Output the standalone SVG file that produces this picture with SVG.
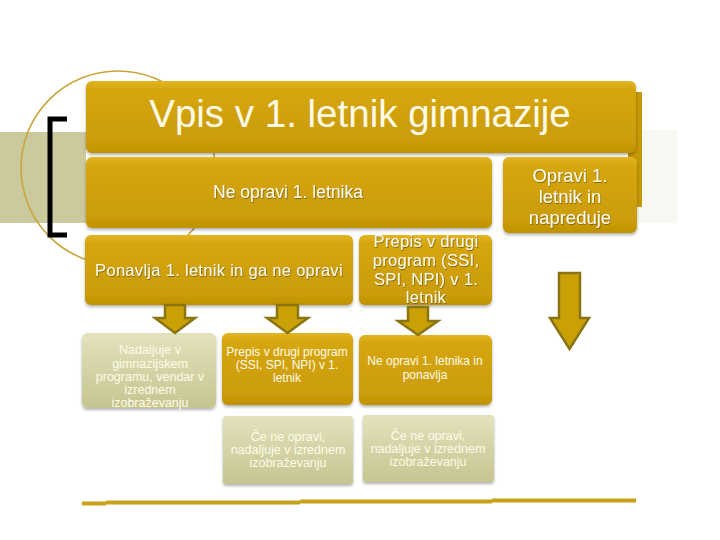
<svg xmlns="http://www.w3.org/2000/svg" width="720" height="540" viewBox="0 0 720 540">
<style>
.gold{fill:url(#gGold);}
.khaki{fill:url(#gKhaki);}
.box{filter:url(#sh);}
text{font-family:"Liberation Sans",Arial,sans-serif;fill:#fffbe8;text-anchor:middle;}
.ts{filter:url(#tsh);}
.arr{fill:#c9a005;stroke:#8a7410;stroke-width:2.5;stroke-linejoin:miter;}
.deco{fill:none;stroke:#c9a53a;stroke-width:1.6;}
.bl{stroke:#c9a019;stroke-width:4;fill:none;}
</style>
<defs>
<linearGradient id="gGold" x1="0" y1="0" x2="0" y2="1">
<stop offset="0" stop-color="#e2b523"/>
<stop offset="0.12" stop-color="#d5a60e"/>
<stop offset="0.85" stop-color="#cb9c07"/>
<stop offset="1" stop-color="#bf9205"/>
</linearGradient>
<linearGradient id="gKhaki" x1="0" y1="0" x2="0" y2="1">
<stop offset="0" stop-color="#e3e2bd"/>
<stop offset="0.5" stop-color="#d4d3a6"/>
<stop offset="1" stop-color="#c6c590"/>
</linearGradient>
<filter id="sh" x="-10%" y="-10%" width="120%" height="130%">
<feDropShadow dx="0" dy="2" stdDeviation="1.6" flood-color="#000" flood-opacity="0.3"/>
</filter>
<filter id="tsh" x="-10%" y="-20%" width="120%" height="140%">
<feDropShadow dx="0.6" dy="0.8" stdDeviation="0.6" flood-color="#5a4500" flood-opacity="0.8"/>
</filter>
</defs>
<rect width="720" height="540" fill="#ffffff"/>
<!-- decorative background -->
<rect x="0" y="132" width="86" height="91" fill="#cbca9c"/>
<rect x="637" y="130" width="40" height="93" fill="#f8f8f2"/>
<circle class="deco" cx="118" cy="168" r="97"/>
<path d="M67,119 H50 V235 H67" fill="none" stroke="#000" stroke-width="5"/>
<rect x="628" y="92" width="14" height="115" fill="#c59806"/>
<!-- bottom lines -->
<path class="bl" d="M82,503.5 H106"/>
<path class="bl" d="M106,502.5 H300"/>
<path class="bl" d="M300,501.5 H492"/>
<path class="bl" d="M492,500.5 H636"/>

<g id="title">
<rect class="gold box" x="86" y="81" width="550" height="72" rx="6"/>
<text x="360" y="127" font-size="38.5">Vpis v 1. letnik gimnazije</text>
</g>
<g id="ne-opravi">
<rect class="gold box" x="86" y="157" width="406" height="71" rx="6"/>
<text class="ts" x="288" y="198" font-size="17.5">Ne opravi 1. letnika</text>
</g>
<g id="opravi">
<rect class="gold box" x="503" y="157" width="134" height="76" rx="6"/>
<text class="ts" font-size="18.5"><tspan x="570" y="182">Opravi 1.</tspan><tspan x="570" y="203">letnik in</tspan><tspan x="570" y="224">napreduje</tspan></text>
</g>
<g id="ponavlja">
<rect class="gold box" x="85" y="235" width="268" height="70" rx="6"/>
<text class="ts" x="219" y="276" font-size="16.5" letter-spacing="0.3">Ponavlja 1. letnik in ga ne opravi</text>
</g>
<g id="prepis1">
<rect class="gold box" x="359" y="235" width="133" height="70" rx="6"/>
<text class="ts" font-size="16.5" letter-spacing="0.3"><tspan x="426" y="247">Prepis v drugi</tspan><tspan x="426" y="266">program (SSI,</tspan><tspan x="426" y="285">SPI, NPI) v 1.</tspan><tspan x="426" y="303">letnik</tspan></text>
</g>
<g id="nadaljuje">
<rect class="khaki box" x="82" y="333" width="134" height="75" rx="6"/>
<text font-size="12.5"><tspan x="150" y="354">Nadaljuje v</tspan><tspan x="150" y="368">gimnazijskem</tspan><tspan x="150" y="381">programu, vendar v</tspan><tspan x="150" y="394">izrednem</tspan><tspan x="150" y="407">izobraževanju</tspan></text>
</g>
<g id="prepis2">
<rect class="gold box" x="222" y="333" width="131" height="72" rx="6"/>
<text font-size="12"><tspan x="287" y="356">Prepis v drugi program</tspan><tspan x="287" y="369">(SSI, SPI, NPI) v 1.</tspan><tspan x="287" y="382">letnik</tspan></text>
</g>
<g id="ponavlja2">
<rect class="gold box" x="359" y="335" width="133" height="70" rx="6"/>
<text font-size="12"><tspan x="425" y="365">Ne opravi 1. letnika in</tspan><tspan x="425" y="379">ponavlja</tspan></text>
</g>
<g id="izredno1">
<rect class="khaki box" x="223" y="416" width="130" height="68" rx="3"/>
<text font-size="12.5"><tspan x="288" y="441">Če ne opravi,</tspan><tspan x="288" y="454">nadaljuje v izrednem</tspan><tspan x="288" y="467">izobraževanju</tspan></text>
</g>
<g id="izredno2">
<rect class="khaki box" x="363" y="415" width="131" height="67" rx="3"/>
<text font-size="12.5"><tspan x="428" y="440">Če ne opravi,</tspan><tspan x="428" y="453">nadaljuje v izrednem</tspan><tspan x="428" y="466">izobraževanju</tspan></text>
</g>
<g id="connectors">
<path class="arr" d="M165,305 H185 V318 H195 L175,333 L155,318 H165 Z"/>
<path class="arr" d="M277,305 H298 V318 H308 L287.5,333 L267,318 H277 Z"/>
<path class="arr" d="M408,307 H428 V321 H438 L418,335 L398,321 H408 Z"/>
<path class="arr" d="M559,273 H580 V318 H589 L569.5,349 L550,318 H559 Z"/>
</g>
</svg>
